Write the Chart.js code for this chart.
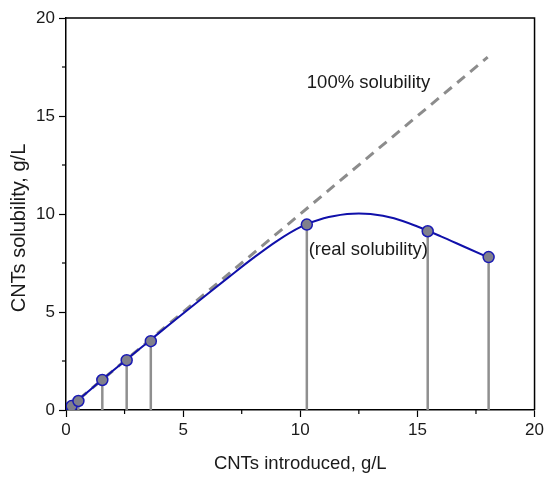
<!DOCTYPE html>
<html>
<head>
<meta charset="utf-8">
<script src="https://cdn.jsdelivr.net/npm/chart.js@4/dist/chart.umd.min.js"></script>
<style>
  html, body { margin: 0; padding: 0; background: #fff; }
  #wrap { width: 547px; height: 479px; position: relative; }
</style>
</head>
<body>
<div id="wrap"><canvas id="c"></canvas></div>
<script>
// Measured samples: CNTs introduced vs. dissolved (g/L)
const introduced = [0.24, 0.53, 1.55, 2.59, 3.62, 10.28, 15.44, 18.04];
const solubility = [0.20, 0.46, 1.53, 2.54, 3.51, 9.46, 9.12, 7.80];

// Smooth trend through the measurements (real solubility)
const trendX = [0, 1, 2, 3, 4, 5, 6, 7, 8, 9, 10, 11, 12, 12.5, 13, 14, 15, 16, 17, 18];
const trendY = [0, 1.0, 2.0, 2.98, 3.96, 4.92, 5.88, 6.83, 7.76, 8.62, 9.33, 9.78, 10.0, 10.03, 10.0, 9.78, 9.36, 8.86, 8.33, 7.80];

// 100 % solubility reference line
const idealX = [0, 18];
const idealY = [0, 18];

// Axis ticks
const xTicks = [0, 5, 10, 15, 20];
const yTicks = [0, 5, 10, 15, 20];
const xMinor = [2.5, 7.5, 12.5, 17.5];
const yMinor = [2.5, 7.5, 12.5, 17.5];

// Axis titles
const xTitle = 'CNTs introduced, g/L';
const yTitle = 'CNTs solubility, g/L';

// Text notes placed in data coordinates
const notes = [
  { text: '100% solubility', x: 10.28, y: 16.7 },
  { text: '(real solubility)', x: 10.36, y: 8.15 }
];

const FONT = '"Liberation Sans", Arial, sans-serif';
const TICK_FONT = '"Liberation Sans Narrow", "Arial Narrow", "Liberation Sans", sans-serif';
const INK = '#1a1a1a';

const toPts = (xs, ys) => xs.map((x, i) => ({ x, y: ys[i] }));

// Vertical drop lines, minor ticks, frame, y title and notes
const extras = {
  id: 'extras',
  beforeDatasetsDraw(chart) {
    const { ctx, scales: { x, y } } = chart;
    ctx.save();
    ctx.strokeStyle = '#8f8f8f';
    ctx.lineWidth = 2.5;
    introduced.forEach((v, i) => {
      const px = x.getPixelForValue(v);
      ctx.beginPath();
      ctx.moveTo(px, y.getPixelForValue(0));
      ctx.lineTo(px, y.getPixelForValue(solubility[i]));
      ctx.stroke();
    });
    ctx.restore();
  },
  afterDraw(chart) {
    const { ctx, chartArea: a, scales: { x, y } } = chart;
    ctx.save();
    ctx.strokeStyle = '#000';
    ctx.lineWidth = 1.5;
    // frame: top and right edges
    ctx.beginPath();
    ctx.moveTo(a.left, a.top);
    ctx.lineTo(a.right, a.top);
    ctx.lineTo(a.right, a.bottom);
    ctx.stroke();
    // minor ticks
    ctx.lineWidth = 1.2;
    xMinor.forEach(v => {
      const px = x.getPixelForValue(v);
      ctx.beginPath();
      ctx.moveTo(px, a.bottom);
      ctx.lineTo(px, a.bottom + 4);
      ctx.stroke();
    });
    yMinor.forEach(v => {
      const py = y.getPixelForValue(v);
      ctx.beginPath();
      ctx.moveTo(a.left, py);
      ctx.lineTo(a.left - 4, py);
      ctx.stroke();
    });
    ctx.fillStyle = INK;
    ctx.textBaseline = 'middle';
    // y axis title, rotated
    ctx.save();
    ctx.translate(19, (a.top + a.bottom) / 2 + 14);
    ctx.rotate(-Math.PI / 2);
    ctx.textAlign = 'center';
    ctx.font = '20px ' + FONT;
    ctx.fillText(yTitle, 0, 0);
    ctx.restore();
    // notes
    ctx.font = '18.5px ' + FONT;
    ctx.textAlign = 'left';
    notes.forEach(n => {
      ctx.fillText(n.text, x.getPixelForValue(n.x), y.getPixelForValue(n.y));
    });
    ctx.restore();
  }
};

new Chart(document.getElementById('c'), {
  type: 'scatter',
  data: {
    datasets: [
      {
        label: 'measured',
        data: toPts(introduced, solubility),
        pointRadius: 5.5,
        pointHoverRadius: 5.5,
        backgroundColor: '#80808c',
        borderColor: '#1a1ab4',
        borderWidth: 1.5,
        showLine: false,
        order: 0
      },
      {
        label: 'real solubility',
        data: toPts(trendX, trendY),
        showLine: true,
        borderColor: '#1010aa',
        borderWidth: 2,
        pointRadius: 0,
        cubicInterpolationMode: 'monotone',
        fill: false,
        order: 1
      },
      {
        label: '100% solubility',
        data: toPts(idealX, idealY),
        showLine: true,
        borderColor: '#8c8c8c',
        borderWidth: 3,
        borderDash: [10, 7],
        pointRadius: 0,
        fill: false,
        order: 2
      }
    ]
  },
  options: {
    responsive: true,
    maintainAspectRatio: false,
    animation: false,
    events: [],
    layout: { padding: { left: 0, right: 12, top: 18, bottom: 0 } },
    plugins: { legend: { display: false }, tooltip: { enabled: false } },
    scales: {
      x: {
        type: 'linear',
        min: 0, max: 20,
        afterBuildTicks: s => { s.ticks = xTicks.map(v => ({ value: v })); },
        afterFit: s => { s.height = 69; },
        border: { color: '#000', width: 1.5 },
        grid: { drawOnChartArea: false, tickLength: 7, tickColor: '#000', tickWidth: 1.2 },
        ticks: { color: INK, font: { family: TICK_FONT, size: 17 }, padding: 3, maxRotation: 0, autoSkip: false },
        title: { display: true, text: xTitle, color: INK, font: { family: FONT, size: 18.5 }, padding: { top: 0, bottom: 4 } }
      },
      y: {
        type: 'linear',
        min: 0, max: 20,
        afterBuildTicks: s => { s.ticks = yTicks.map(v => ({ value: v })); },
        afterFit: s => { s.width = 66; },
        border: { color: '#000', width: 1.5 },
        grid: { drawOnChartArea: false, tickLength: 7, tickColor: '#000', tickWidth: 1.2 },
        ticks: { color: INK, font: { family: TICK_FONT, size: 17 }, padding: 4, autoSkip: false },
        title: { display: false }
      }
    }
  },
  plugins: [extras]
});
</script>
</body>
</html>
